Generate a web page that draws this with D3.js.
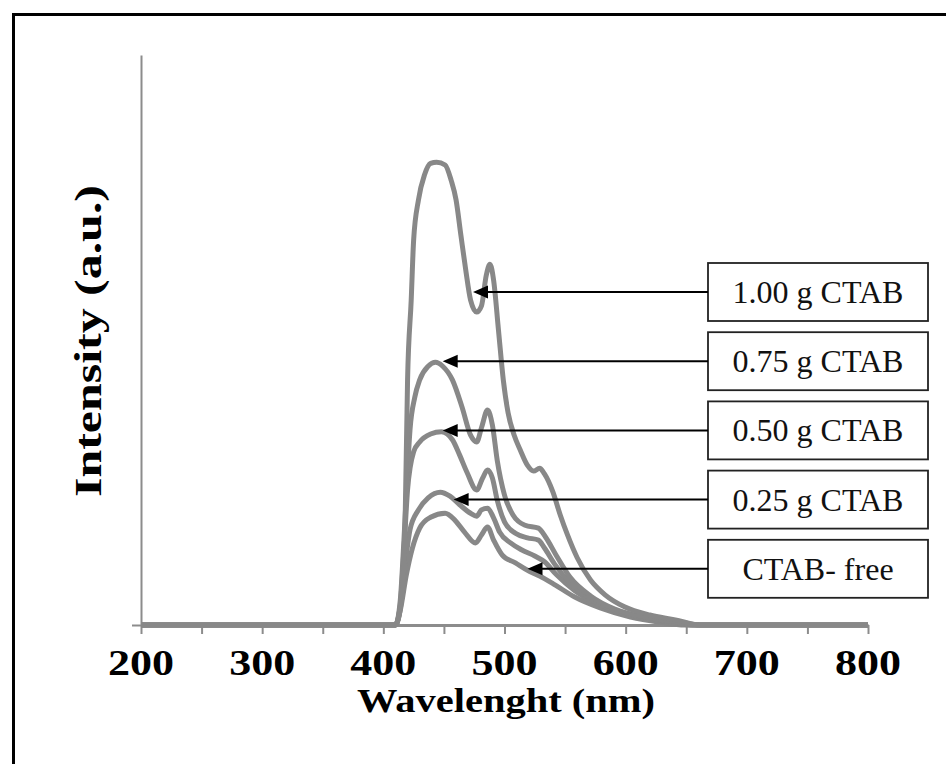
<!DOCTYPE html>
<html>
<head>
<meta charset="utf-8">
<script src="https://cdn.jsdelivr.net/npm/d3@7"></script>
<style>
  body { margin: 0; background: #fff; }
  svg { display: block; }
  .serif { font-family: "Liberation Serif", "Times New Roman", serif; }
</style>
</head>
<body>
<div id="chart"></div>
<script>
// wavelength (nm) and intensity (a.u.)
const seriesNames = ['1.00 g CTAB', '0.75 g CTAB', '0.50 g CTAB', '0.25 g CTAB', 'CTAB- free'];

const wl100 = [200, 400, 410, 415, 418, 420, 423, 425, 429, 434, 439, 444, 451, 456, 460, 464, 468, 472, 477, 481, 485, 488, 491, 495, 499, 503, 508, 513, 519, 524, 529, 533, 540, 546, 552, 560, 571, 583, 599, 620, 641, 661, 800];
const int100 = [0, 0, 0, 4.4, 18.4, 43, 57, 67.5, 74.6, 79, 81, 81.2, 80.7, 78, 74.6, 68.4, 62.3, 57, 54.9, 56, 61.4, 63.3, 60.5, 51.8, 43, 37.2, 33.3, 30.7, 28, 27, 27.5, 26.5, 23.3, 19.3, 15.8, 11.8, 7.9, 5.3, 3.2, 1.75, 0.9, 0, 0];

const wl075 = [200, 400, 410, 414, 417, 420, 422, 426, 430, 437, 443, 449, 457, 465, 472, 477, 481, 486, 490, 494, 500, 507, 517, 528, 534, 543, 554, 571, 591, 616, 645, 661, 800];
const int075 = [0, 0, 0, 4.4, 14.9, 27.2, 34.2, 40, 43, 45.4, 46.1, 45.4, 43, 38.2, 33.3, 32.1, 34.6, 37.7, 35.1, 28.9, 22.8, 19.3, 17.5, 17, 15.4, 12.1, 8.4, 5.1, 2.8, 1.4, 0.5, 0, 0];

const wl050 = [200, 400, 410, 414, 417, 420, 425, 430, 439, 448, 457, 463, 469, 477, 482, 486, 490, 494, 500, 509, 519, 528, 533, 542, 554, 571, 591, 616, 645, 657, 800];
const int050 = [0, 0, 0, 3.5, 13.2, 23.7, 30.4, 32.1, 33.5, 33.9, 32.5, 29.8, 26.8, 23.7, 25.8, 27.2, 25.8, 21.9, 18.1, 16.1, 15.3, 14.9, 13.5, 10.5, 7.4, 4.6, 2.5, 1.2, 0.35, 0, 0];

const wl025 = [200, 400, 410, 414, 418, 422, 429, 437, 447, 455, 463, 472, 477, 481, 486, 491, 496, 505, 514, 525, 533, 543, 558, 579, 604, 633, 653, 800];
const int025 = [0, 0, 0, 3.2, 10.5, 16.7, 20.2, 22.3, 23.3, 22.6, 21.1, 19.6, 19.1, 20.2, 20.5, 18.8, 16.3, 14.4, 13.2, 12.1, 11.1, 8.8, 6, 3.5, 1.75, 0.7, 0, 0];

const wl000 = [200, 400, 410, 414, 419, 424, 430, 439, 451, 459, 467, 476, 481, 486, 491, 498, 509, 519, 529, 542, 558, 579, 604, 628, 649, 800];
const int000 = [0, 0, 0, 2.6, 8.8, 13.5, 17, 18.9, 19.6, 18.4, 16.3, 14.4, 15.8, 17.2, 14.9, 12.3, 10.9, 9.6, 8.6, 7, 4.9, 3, 1.4, 0.5, 0, 0];

// wavelength each label arrow points at
const arrowTargets = [474, 449, 449, 458, 519];

const xTicks = [200, 300, 400, 500, 600, 700, 800];

const width = 946, height = 764;
const margin = {top: 55, right: 78, bottom: 139, left: 141};

const svg = d3.select('#chart').append('svg')
    .attr('width', width)
    .attr('height', height);

// outer frame (only left and top edges are visible)
svg.append('rect')
    .attr('x', 13.5).attr('y', 14.5)
    .attr('width', 1200).attr('height', 1200)
    .attr('fill', 'none')
    .attr('stroke', '#000')
    .attr('stroke-width', 3);

const x = d3.scaleLinear().domain([200, 800]).range([margin.left, width - margin.right]);
const y = d3.scaleLinear().domain([0, 100]).range([height - margin.bottom, margin.top]);

const axisColor = '#8c8c8c';

// x axis
const xAxis = svg.append('g')
    .attr('transform', `translate(0,${y(0)})`)
    .call(d3.axisBottom(x).tickValues(d3.range(200, 801, 50)).tickSize(9).tickSizeOuter(0).tickFormat(''));
xAxis.select('.domain').attr('stroke', axisColor).attr('stroke-width', 3);
xAxis.selectAll('.tick line').attr('stroke', axisColor).attr('stroke-width', 2);

// tick labels
svg.append('g').selectAll('text')
    .data(xTicks)
    .enter().append('text')
    .attr('class', 'serif')
    .attr('x', d => x(d))
    .attr('y', y(0) + 50)
    .attr('text-anchor', 'middle')
    .attr('font-size', 36)
    .attr('font-weight', 'bold')
    .attr('textLength', 66)
    .attr('lengthAdjust', 'spacingAndGlyphs')
    .text(d => d);

// y axis
const yAxis = svg.append('g')
    .attr('transform', `translate(${x(200)},0)`)
    .call(d3.axisLeft(y).tickValues([0]).tickSize(9).tickSizeOuter(0).tickFormat(''));
yAxis.select('.domain').attr('stroke', axisColor).attr('stroke-width', 2);
yAxis.selectAll('.tick line').attr('stroke', axisColor).attr('stroke-width', 2);

// axis titles
svg.append('text')
    .attr('class', 'serif')
    .attr('x', 506).attr('y', 712)
    .attr('text-anchor', 'middle')
    .attr('font-size', 33)
    .attr('font-weight', 'bold')
    .attr('textLength', 298)
    .attr('lengthAdjust', 'spacingAndGlyphs')
    .text('Wavelenght (nm)');

svg.append('text')
    .attr('class', 'serif')
    .attr('transform', 'translate(101,341) rotate(-90)')
    .attr('text-anchor', 'middle')
    .attr('font-size', 38)
    .attr('font-weight', 'bold')
    .attr('textLength', 312)
    .attr('lengthAdjust', 'spacingAndGlyphs')
    .text('Intensity (a.u.)');

// spectra
const series = [
  {name: seriesNames[0], wl: wl100, val: int100},
  {name: seriesNames[1], wl: wl075, val: int075},
  {name: seriesNames[2], wl: wl050, val: int050},
  {name: seriesNames[3], wl: wl025, val: int025},
  {name: seriesNames[4], wl: wl000, val: int000}
];

const line = d3.line()
    .x(d => x(d[0]))
    .y(d => y(d[1]))
    .curve(d3.curveMonotoneX);

svg.append('g').selectAll('path')
    .data(series.slice().reverse())
    .enter().append('path')
    .attr('d', s => line(s.wl.map((w, i) => [w, s.val[i]])))
    .attr('fill', 'none')
    .attr('stroke', '#888888')
    .attr('stroke-width', 5)
    .attr('stroke-linejoin', 'round');

// label boxes with arrows
const boxLeft = 708, boxWidth = 220, boxHeight = 58, boxTop = 263, boxStep = 69.2;

const labels = svg.append('g').selectAll('g')
    .data(series)
    .enter().append('g')
    .attr('transform', (d, i) => `translate(0,${boxTop + i * boxStep})`);

labels.append('rect')
    .attr('x', boxLeft).attr('y', 0)
    .attr('width', boxWidth).attr('height', boxHeight)
    .attr('fill', '#fff')
    .attr('stroke', '#222')
    .attr('stroke-width', 1.8);

labels.append('text')
    .attr('class', 'serif')
    .attr('x', boxLeft + boxWidth / 2)
    .attr('y', boxHeight / 2 + 11)
    .attr('text-anchor', 'middle')
    .attr('font-size', 32)
    .attr('fill', '#111')
    .text(d => d.name);

labels.append('line')
    .attr('x1', boxLeft)
    .attr('x2', (d, i) => x(arrowTargets[i]) + 12)
    .attr('y1', boxHeight / 2).attr('y2', boxHeight / 2)
    .attr('stroke', '#000')
    .attr('stroke-width', 2);

labels.append('path')
    .attr('d', (d, i) => {
      const tx = x(arrowTargets[i]), ty = boxHeight / 2;
      return `M${tx},${ty} L${tx + 15},${ty - 6.5} L${tx + 15},${ty + 6.5} Z`;
    })
    .attr('fill', '#000');
</script>
</body>
</html>
